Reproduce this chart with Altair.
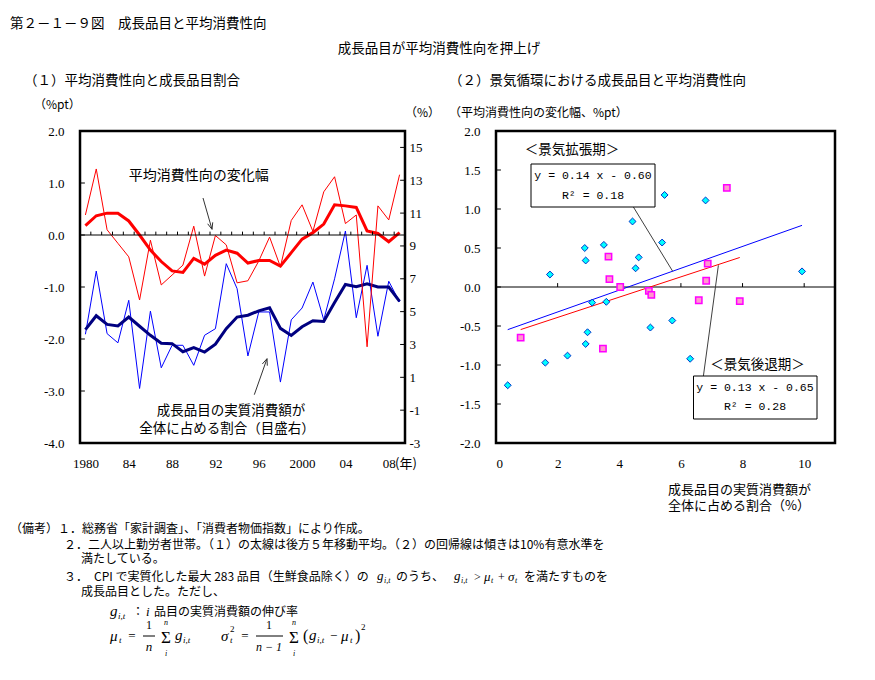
import math
import altair as alt
import pandas as pd

JP = "Noto Sans CJK JP"
NUM = "Liberation Serif"
MONO = "Liberation Mono"

# ---------------- data: panel (1) ----------------
years = list(range(1980, 2010))
apc_change = [0.385, 1.27, 0.10, -0.16, -0.42, -1.25, -0.10, -0.96, -0.77, -0.58,
              0.17, -0.79, -0.01, -0.19, -0.92, -0.88, -0.50, -0.04, -0.61, 0.28,
              0.58, 0.07, 0.83, 1.12, 0.22, 0.385, -2.15, 0.56, 0.29, 1.16]
apc_ma = [0.18, 0.37, 0.42, 0.42, 0.27, 0.0, -0.29, -0.51, -0.69, -0.72,
          -0.45, -0.56, -0.39, -0.29, -0.35, -0.54, -0.49, -0.49, -0.60, -0.34,
          -0.08, 0.045, 0.21, 0.58, 0.56, 0.53, 0.08, 0.03, -0.13, 0.045]
share = [3.62, 7.47, 3.66, 3.10, 5.69, 0.32, 5.03, 1.58, 2.95, 2.95,
         1.73, 3.56, 3.96, 7.92, 6.40, 2.30, 4.98, 4.98, 0.71, 4.50,
         5.22, 6.80, 4.50, 7.00, 9.91, 4.63, 7.82, 3.50, 6.85, 5.59]
share_ma = [3.90, 4.75, 4.22, 4.13, 4.67, 4.11, 3.56, 3.08, 3.05, 2.56,
            2.81, 2.54, 3.02, 3.96, 4.67, 4.78, 5.05, 5.23, 3.98, 3.55,
            4.08, 4.45, 4.40, 5.55, 6.65, 6.52, 6.70, 6.50, 6.50, 5.62]
year_ticks = [1980, 1984, 1988, 1992, 1996, 2000, 2004, 2008]
year_tick_labels = ["1980", "84", "88", "92", "96", "2000", "04", "08"]
left_ticks = [-4, -3, -2, -1, 0, 1, 2]
right_ticks = [-3, -1, 1, 3, 5, 7, 9, 11, 13, 15]

# ---------------- data: panel (2) ----------------
exp_x = [1.75, 2.88, 2.91, 3.50, 4.43, 4.63, 4.53, 5.39, 5.47, 6.80, 9.93,
         3.12, 3.58, 0.38, 1.60, 2.32, 2.91, 2.97, 5.01, 5.72, 6.30]
exp_y = [0.16, 0.50, 0.34, 0.54, 0.84, 0.38, 0.24, 0.57, 1.18, 1.11, 0.20,
         -0.20, -0.19, -1.26, -0.97, -0.88, -0.73, -0.58, -0.52, -0.43, -0.92]
rec_x = [3.65, 3.68, 4.03, 4.96, 5.04, 6.58, 6.87, 6.82, 7.49, 7.91, 0.80, 3.47]
rec_y = [0.39, 0.10, 0.00, -0.05, -0.10, -0.17, 0.30, 0.08, 1.27, -0.18, -0.65, -0.79]
reg_slope = [0.14, 0.13]
reg_intercept = [-0.60, -0.65]
reg_r2 = [0.18, 0.28]
sx_ticks = [0, 2, 4, 6, 8, 10]
sy_ticks = [-2.0, -1.5, -1.0, -0.5, 0.0, 0.5, 1.0, 1.5, 2.0]

dummy = pd.DataFrame({"a": [0]})
HYPHEN = "replace(datum.label, '\u2212', '-')"


def txt(s, x, y, size=12, align="left", font=JP, style="normal", color="black"):
    return alt.Chart(dummy).mark_text(
        text=s, align=align, baseline="middle", fontSize=size, font=font,
        fontStyle=style, color=color
    ).encode(x=alt.value(x), y=alt.value(y))


def seg(x1, y1, x2, y2, color="black", width=1.0):
    return alt.Chart(dummy).mark_rule(color=color, strokeWidth=width).encode(
        x=alt.value(x1), y=alt.value(y1), x2=alt.value(x2), y2=alt.value(y2))


def arrow(x1, y1, x2, y2, color="#333333", head=7, ang=22):
    dx, dy = x2 - x1, y2 - y1
    L = math.hypot(dx, dy)
    ux, uy = -dx / L, -dy / L
    out = [seg(x1, y1, x2, y2, color)]
    for s in (1, -1):
        a = math.radians(ang * s)
        bx = ux * math.cos(a) - uy * math.sin(a)
        by = ux * math.sin(a) + uy * math.cos(a)
        out.append(seg(x2, y2, x2 + head * bx, y2 + head * by, color))
    return out


def git(x, y, size=13, sub_size=8):
    """italic g with subscript i,t"""
    return [txt("g", x, y - 1, size, font=NUM, style="italic"),
            txt("i,t", x + 7, y + 4, sub_size, font=NUM, style="italic")]


# ---------------- panel (1) ----------------
W1, H = 325, 312
expr = "''"
for v, l in reversed(list(zip(year_ticks, year_tick_labels))):
    expr = f"datum.value == {v} ? '{l}' : ({expr})"

xs = alt.Scale(domain=[1979.5, 2009.5], nice=False, zero=False)
xaxis = alt.Axis(values=year_ticks, labelExpr=expr, ticks=False, tickSize=0,
                 domain=False, grid=False, title=None, labelFont=NUM,
                 labelFontSize=13, labelPadding=14, labelColor="black")
ysL = alt.Scale(domain=[-4, 2], nice=False, zero=False)
ysR = alt.Scale(domain=[-3, 16], nice=False, zero=False)
yaxisL = alt.Axis(orient="left", values=left_ticks, format=".1f", labelExpr=HYPHEN,
                  ticks=False, tickSize=0, domain=False, grid=False, title=None,
                  labelFont=NUM, labelFontSize=13, labelPadding=16,
                  labelColor="black")
yaxisR = alt.Axis(orient="right", values=right_ticks, format="d", labelExpr=HYPHEN,
                  ticks=False, tickSize=0, domain=False, grid=False, title=None,
                  labelFont=NUM, labelFontSize=13, labelPadding=4,
                  labelColor="black")

df1 = pd.DataFrame({"year": years, "apc": apc_change, "apc_ma": apc_ma,
                    "share": share, "share_ma": share_ma})
X = alt.X("year:Q", scale=xs, axis=xaxis)

share_thin = alt.Chart(df1).mark_line(color="#0000FF", strokeWidth=1).encode(
    x=X, y=alt.Y("share:Q", scale=ysR, axis=yaxisR))
share_thick = alt.Chart(df1).mark_line(color="#000080", strokeWidth=3).encode(
    x=X, y=alt.Y("share_ma:Q", scale=ysR, axis=None))
apc_thin = alt.Chart(df1).mark_line(color="#FF0000", strokeWidth=1).encode(
    x=X, y=alt.Y("apc:Q", scale=ysL, axis=yaxisL))
apc_thick = alt.Chart(df1).mark_line(color="#FF0000", strokeWidth=3).encode(
    x=X, y=alt.Y("apc_ma:Q", scale=ysL, axis=None))

zero1 = alt.Chart(pd.DataFrame({"z": [0]})).mark_rule(color="black", strokeWidth=1).encode(
    y=alt.Y("z:Q", scale=ysL, axis=None))
bdf = pd.DataFrame({"xb": [y + 0.5 for y in years[:-1]]})
bdf["y0"] = 0.0
bdf["y1"] = 0.065
bticks = alt.Chart(bdf).mark_rule(color="black", strokeWidth=1).encode(
    x=alt.X("xb:Q", scale=xs, axis=xaxis),
    y=alt.Y("y0:Q", scale=ysL, axis=None), y2="y1")
ltdf = pd.DataFrame({"v": left_ticks[1:-1]})
ltdf["x0"] = years[0] - 0.5
ltdf["x1"] = years[0] - 0.5 + 0.45
lticks = alt.Chart(ltdf).mark_rule(color="black", strokeWidth=1).encode(
    x=alt.X("x0:Q", scale=xs, axis=xaxis), x2="x1",
    y=alt.Y("v:Q", scale=ysL, axis=None))
rtdf = pd.DataFrame({"v": right_ticks[1:]})
rtdf["x0"] = years[-1] + 0.5 - 0.45
rtdf["x1"] = years[-1] + 0.5
rticks = alt.Chart(rtdf).mark_rule(color="black", strokeWidth=1).encode(
    x=alt.X("x0:Q", scale=xs, axis=xaxis), x2="x1",
    y=alt.Y("v:Q", scale=ysR, axis=None))

anchor = alt.Chart(dummy).mark_rect(opacity=0).encode(
    x=alt.value(-78), x2=alt.value(-77), y=alt.value(-129), y2=alt.value(-128))

left_text = [
    anchor,
    txt("第２－１－９図　成長品目と平均消費性向", -70, -107, 13.5),
    txt("成長品目が平均消費性向を押上げ", 359, -82, 13.5, "center"),
    txt("（１）平均消費性向と成長品目割合", -56, -50, 13.5),
    txt("（２）景気循環における成長品目と平均消費性向", 369, -50, 13.5),
    txt("（%pt）", -46, -26, 12),
    txt("（%）", 325, -18, 12),
    txt("（平均消費性向の変化幅、%pt）", 369, -18, 12),
    txt("(年)", 315, 333, 13),
    txt("平均消費性向の変化幅", 118.7, 45, 14, "center"),
    txt("成長品目の実質消費額が", 151, 280, 13.5, "center"),
    txt("全体に占める割合（目盛右）", 147, 298, 13.5, "center"),
    # notes
    txt("（備考）１．総務省「家計調査」、「消費者物価指数」により作成。", -70, 398, 12),
    txt("２．二人以上勤労者世帯。（１）の太線は後方５年移動平均。（２）の回帰線は傾きは10%有意水準を", -16, 414, 12),
    txt("満たしている。", 1, 428, 12),
    txt("３．　CPI で実質化した最大 283 品目（生鮮食品除く）の", -16, 446, 12),
    *git(297, 446),
    txt("のうち、", 316, 446, 12),
    *git(374, 446),
    txt(">", 394, 446, 12, font=NUM),
    txt("μ", 404, 446, 13, font=NUM, style="italic"),
    txt("t", 411, 450, 8, font=NUM, style="italic"),
    txt("+", 418, 446, 12, font=NUM),
    txt("σ", 428, 446, 13, font=NUM, style="italic"),
    txt("t", 435, 450, 8, font=NUM, style="italic"),
    txt("を満たすものを", 444, 446, 12),
    txt("成長品目とした。ただし、", 1, 461, 12),
    txt("g", 30, 480, 15, font=NUM, style="italic"),
    txt("i,t", 38, 485, 9, font=NUM, style="italic"),
    txt("：", 52, 481, 12),
    txt("i", 66, 481, 13, font=NUM, style="italic"),
    txt("品目の実質消費額の伸び率", 74, 481, 12),
    # formula mu
    txt("μ", 30, 505, 15, font=NUM, style="italic"),
    txt("t", 39, 509, 9, font=NUM, style="italic"),
    txt("=", 52, 505, 13, "center", font=NUM),
    txt("1", 69, 494, 12, "center", font=NUM),
    seg(63, 505, 75, 505),
    txt("n", 69, 516, 13, "center", font=NUM, style="italic"),
    txt("Σ", 86, 507, 17, "center", font=NUM),
    txt("n", 86, 492, 8, "center", font=NUM, style="italic"),
    txt("i", 86, 523, 8, "center", font=NUM, style="italic"),
    txt("g", 95, 504, 15, font=NUM, style="italic"),
    txt("i,t", 103, 509, 9, font=NUM, style="italic"),
    # formula sigma
    txt("σ", 141, 505, 15, font=NUM, style="italic"),
    txt("2", 150, 498, 9, font=NUM),
    txt("t", 150, 509, 9, font=NUM, style="italic"),
    txt("=", 165, 505, 13, "center", font=NUM),
    txt("1", 189, 494, 12, "center", font=NUM),
    seg(176, 505, 203, 505),
    txt("n − 1", 189, 516, 12, "center", font=NUM, style="italic"),
    txt("Σ", 214, 507, 17, "center", font=NUM),
    txt("n", 214, 492, 8, "center", font=NUM, style="italic"),
    txt("i", 214, 523, 8, "center", font=NUM, style="italic"),
    txt("(", 223, 505, 16, font=NUM),
    txt("g", 229, 504, 15, font=NUM, style="italic"),
    txt("i,t", 237, 509, 9, font=NUM, style="italic"),
    txt("−", 250, 505, 13, font=NUM),
    txt("μ", 261, 505, 15, font=NUM, style="italic"),
    txt("t", 270, 509, 9, font=NUM, style="italic"),
    txt(")", 275, 505, 16, font=NUM),
    txt("2", 281, 496, 9, font=NUM),
]
left_text += arrow(123, 67, 132, 98.3)
left_text += arrow(174.3, 263.7, 187, 227.7)

left = alt.layer(
    share_thin, share_thick, apc_thin, apc_thick, zero1, bticks, lticks, rticks,
    *left_text
).resolve_scale(y="independent").properties(width=W1, height=H)

# ---------------- panel (2) ----------------
W2 = 339
xs2 = alt.Scale(domain=[0, 11], nice=False, zero=False)
ys2 = alt.Scale(domain=[-2, 2], nice=False, zero=False)
xaxis2 = alt.Axis(values=sx_ticks, format="d", ticks=False, tickSize=0,
                  domain=False, grid=False, title=None, labelFont=NUM,
                  labelFontSize=13, labelPadding=14, labelColor="black")
yaxis2 = alt.Axis(values=sy_ticks, format=".1f", labelExpr=HYPHEN, ticks=False,
                  tickSize=0, domain=False, grid=False, title=None, labelFont=NUM,
                  labelFontSize=13, labelPadding=16, labelColor="black")
X2 = lambda f: alt.X(f, scale=xs2, axis=xaxis2)
Y2 = lambda f: alt.Y(f, scale=ys2, axis=yaxis2)

df_exp = pd.DataFrame({"x": exp_x, "y": exp_y})
df_rec = pd.DataFrame({"x": rec_x, "y": rec_y})

reg_rows = []
for name, xs_, k, b in (("exp", exp_x, reg_slope[0], reg_intercept[0]),
                         ("rec", rec_x, reg_slope[1], reg_intercept[1])):
    for xv in (min(xs_), max(xs_)):
        reg_rows.append({"g": name, "x": xv, "y": k * xv + b})
df_reg = pd.DataFrame(reg_rows)

zero2 = alt.Chart(pd.DataFrame({"z": [0]})).mark_rule(color="black", strokeWidth=1).encode(
    y=Y2("z:Q"))
xt = pd.DataFrame({"v": sx_ticks[1:]})
xt["y0"] = 0.0
xt["y1"] = 0.05
xticks2 = alt.Chart(xt).mark_rule(color="black").encode(x=X2("v:Q"), y=Y2("y0:Q"), y2="y1")
yt = pd.DataFrame({"v": sy_ticks[1:-1]})
yt["x0"] = 0.0
yt["x1"] = 0.16
yticks2 = alt.Chart(yt).mark_rule(color="black").encode(x=X2("x0:Q"), x2="x1", y=Y2("v:Q"))

reg_exp = alt.Chart(df_reg[df_reg.g == "exp"]).mark_line(color="#0000FF", strokeWidth=1).encode(
    x=X2("x:Q"), y=Y2("y:Q"))
reg_rec = alt.Chart(df_reg[df_reg.g == "rec"]).mark_line(color="#FF0000", strokeWidth=1).encode(
    x=X2("x:Q"), y=Y2("y:Q"))
pts_exp = alt.Chart(df_exp).mark_point(
    shape="diamond", filled=True, fill="#00FFFF", stroke="#0033CC", strokeWidth=1,
    size=48, opacity=1).encode(x=X2("x:Q"), y=Y2("y:Q"))
pts_rec = alt.Chart(df_rec).mark_point(
    shape="square", filled=True, fill="#FF99CC", stroke="#FF00FF", strokeWidth=1.5,
    size=40, opacity=1).encode(x=X2("x:Q"), y=Y2("y:Q"))


def box(x1, y1, x2, y2):
    return alt.Chart(dummy).mark_rect(fill="white", stroke="black", strokeWidth=1).encode(
        x=alt.value(x1), x2=alt.value(x2), y=alt.value(y1), y2=alt.value(y2))


eq1 = f"y = {reg_slope[0]:.2f} x - {abs(reg_intercept[0]):.2f}"
eq2 = f"y = {reg_slope[1]:.2f} x - {abs(reg_intercept[1]):.2f}"
right_text = [
    seg(137.4, 76, 176.7, 140.3, "#404040"),
    seg(207.4, 245, 222.4, 134.3, "#404040"),
    box(35, 33, 159, 76),
    box(197.5, 245, 321, 288),
    txt("＜景気拡張期＞", 76, 19, 13.5, "center"),
    txt(eq1, 97, 44.5, 11.5, "center", font=MONO),
    txt(f"R² = {reg_r2[0]:.2f}", 97, 65, 11.5, "center", font=MONO),
    txt("＜景気後退期＞", 261.5, 234, 13.5, "center"),
    txt(eq2, 259, 257, 11.5, "center", font=MONO),
    txt(f"R² = {reg_r2[1]:.2f}", 259, 276, 11.5, "center", font=MONO),
    txt("成長品目の実質消費額が", 172, 359, 13),
    txt("全体に占める割合（%）", 172, 375, 13),
]

right = alt.layer(
    zero2, xticks2, yticks2, reg_exp, reg_rec, pts_exp, pts_rec, *right_text
).properties(width=W2, height=H)

chart = alt.hconcat(left, right, spacing=91, bounds="flush").properties(
    padding=0, background="white"
).configure_view(stroke="black", strokeWidth=2.5)

chart.save("out.html", embed_options={"renderer": "svg", "actions": False})
